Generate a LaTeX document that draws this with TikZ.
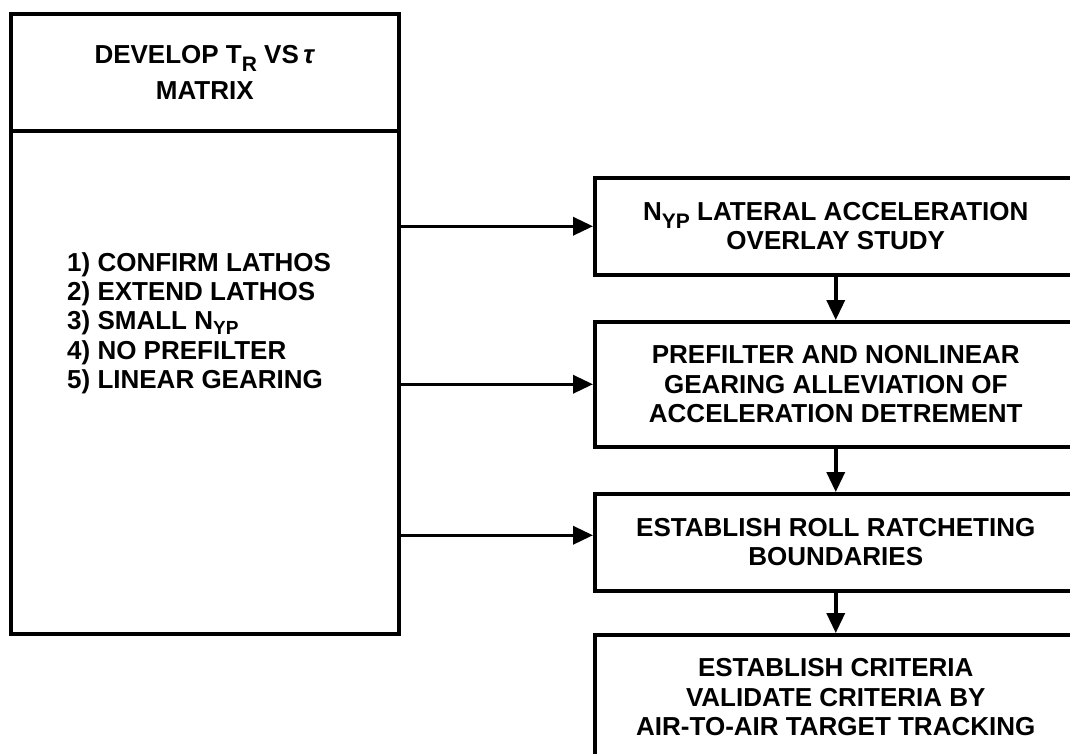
\documentclass[tikz,border=0pt]{standalone}
\usepackage{fontspec}
\setmainfont{Liberation Sans}
\usetikzlibrary{arrows.meta}
\newcommand{\mysub}[1]{\smash{\raisebox{-0.3em}{\fontsize{21}{21}\selectfont #1}}}
\newcommand{\mylistsub}[1]{\smash{\raisebox{-0.2em}{\fontsize{19}{19}\selectfont #1}}}
\begin{document}
\begin{tikzpicture}[x=1pt,y=-1pt,
  box/.style={draw, line width=3.5pt, rectangle, inner sep=0pt, align=center, font=\fontsize{26}{29.5}\selectfont\bfseries},
  listtext/.style={inner sep=0pt, align=left, font=\fontsize{26}{29}\selectfont\bfseries},
  arr/.style={line width=3.5pt, -{Triangle[length=20pt,width=18pt]}}]
\useasboundingbox (0,0) rectangle (1070,753);
\clip (0,0) rectangle (1070,753);
% left box
\node[box, anchor=north west, minimum width=388pt, minimum height=117pt] (T) at (9,12)
  {DEVELOP T\mysub{R} VS\,\textit{τ}\\[6pt] MATRIX};
\node[box, anchor=north west, minimum width=388pt, minimum height=503pt] (B) at (9,129) {};
\node[listtext, anchor=west] (list) at (67,323)
  {1) CONFIRM LATHOS\\ 2) EXTEND LATHOS\\ 3) SMALL N\mylistsub{YP}\\[1pt] 4) NO PREFILTER\\ 5) LINEAR GEARING};
% right boxes
\node[box, anchor=north west, minimum width=482pt, minimum height=97pt] (b1) at (593,176)
  {N\mysub{YP} LATERAL ACCELERATION\\ OVERLAY STUDY};
\node[box, anchor=north west, minimum width=482pt, minimum height=125pt] (b2) at (593,320)
  {PREFILTER AND NONLINEAR\\ GEARING ALLEVIATION OF\\ ACCELERATION DETREMENT};
\node[box, anchor=north west, minimum width=482pt, minimum height=97pt] (b3) at (593,492)
  {ESTABLISH ROLL RATCHETING\\ BOUNDARIES};
\node[box, anchor=north west, minimum width=482pt, minimum height=125pt] (b4) at (593,633)
  {ESTABLISH CRITERIA\\ VALIDATE CRITERIA BY\\ AIR-TO-AIR TARGET TRACKING};
% connectors
\draw[arr] (B.east |- b1.west) -- (b1.west);
\draw[arr] (B.east |- b2.west) -- (b2.west);
\draw[arr] ([yshift=7pt]B.east |- b3.west) -- ([yshift=7pt]b3.west);
\draw[arr] (b1.south) -- (b2.north);
\draw[arr] (b2.south) -- (b3.north);
\draw[arr] (b3.south) -- (b4.north);
\end{tikzpicture}
\end{document}
